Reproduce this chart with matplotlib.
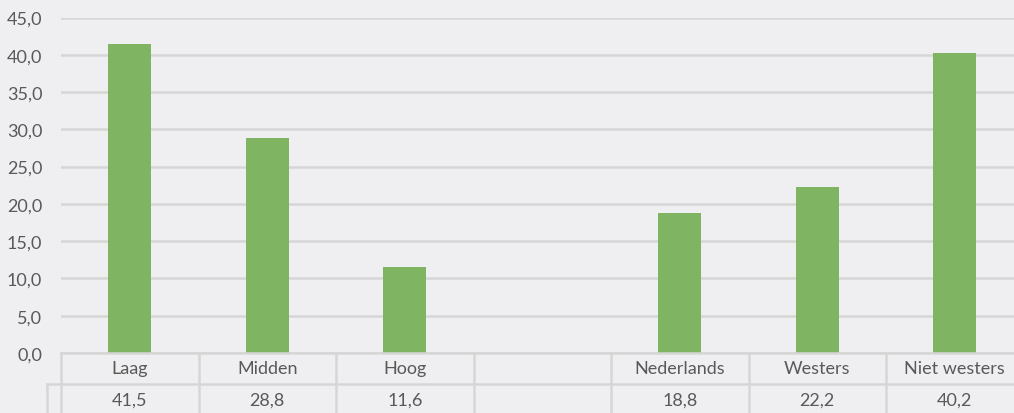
import matplotlib
matplotlib.use("Agg")
import matplotlib.pyplot as plt
import numpy as np

# data
categories = ["Laag", "Midden", "Hoog", "", "Nederlands", "Westers", "Niet westers"]
values = [41.5, 28.8, 11.6, None, 18.8, 22.2, 40.2]
yticks = [0, 5, 10, 15, 20, 25, 30, 35, 40, 45]

BG = "#EFEFF1"
GREEN = "#7FB562"
GRID = "#D6D6D6"
TXT = "#595959"

plt.rcParams["font.family"] = ["Lato", "DejaVu Sans"]

W, H = 1014, 414
fig = plt.figure(figsize=(W / 100, H / 100), dpi=100, facecolor=BG)

# plot area in pixels
left, right = 61, 1023.5
top, bottom = 18.5, 354
ax = fig.add_axes([left / W, 1 - bottom / H, (right - left) / W, (bottom - top) / H])
ax.set_facecolor(BG)

x = np.arange(len(categories))
heights = [v if v is not None else 0 for v in values]
ax.bar(x, heights, width=0.31, color=GREEN, zorder=3)

ax.set_xlim(-0.5, len(categories) - 0.5)
ax.set_ylim(0, 45)
ax.set_yticks(yticks)
ax.set_yticklabels([f"{t:.1f}".replace(".", ",") for t in yticks], fontsize=13, color=TXT)
ax.tick_params(axis="y", length=0, pad=13.5)
ax.set_xticks([])
ax.yaxis.grid(True, color=GRID, linewidth=1.8, zorder=0)
for s in ax.spines.values():
    s.set_visible(False)

# data table below the plot
px = (bottom - top)  # axes height in pixels
row1 = (384.5 - bottom) / px
row2 = (H + 5 - bottom) / px
tr = ax.get_xaxis_transform()
lw = 1.8
xl = -0.5
xr = len(categories) - 0.5
xhdr = xl - (left - 47) / ((right - left) / len(categories))

ax.plot([xl, xr], [0, 0], color=GRID, lw=lw, transform=tr, clip_on=False, zorder=4)
ax.plot([xhdr, xr], [-row1, -row1], color=GRID, lw=lw, transform=tr, clip_on=False)
ax.plot([xhdr, xhdr], [-row1, -row2], color=GRID, lw=lw, transform=tr, clip_on=False)
for b in np.arange(len(categories) + 1) - 0.5:
    ax.plot([b, b], [0, -row2], color=GRID, lw=lw, transform=tr, clip_on=False)

for i, (c, v) in enumerate(zip(categories, values)):
    ax.text(i, -row1 / 2, c, ha="center", va="center", fontsize=13, color=TXT,
            transform=tr, clip_on=False)
    if v is not None:
        ax.text(i, -row1 - 0.048, f"{v:.1f}".replace(".", ","), ha="center", va="center",
                fontsize=13, color=TXT, transform=tr, clip_on=False)

fig.savefig("out.png", dpi=100, facecolor=BG)
